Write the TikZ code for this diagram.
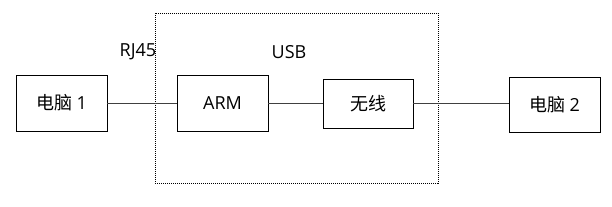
\documentclass[tikz,border=0pt]{standalone}
\usepackage{fontspec}
\setmainfont{Open Sans}
\newfontfamily\cjk{Noto Sans CJK SC}
\begin{document}
\begin{tikzpicture}[x=1pt,y=-1pt,
  blk/.style={draw=black,line width=0.9pt,inner sep=0pt,font=\fontsize{18}{20}\selectfont},
  lbl/.style={inner sep=0pt,font=\fontsize{18}{20}\selectfont},
  wire/.style={draw=black!75,line width=0.9pt}]
\useasboundingbox (0,0) rectangle (612,206);
\draw[line width=1pt,dash pattern=on 1pt off 1pt] (155,13) rectangle (438,183);
\node[blk,minimum width=91pt,minimum height=56pt] (pc1) at (61.5,103) {{\cjk 电脑} 1};
\node[blk,minimum width=91pt,minimum height=56pt] (arm) at (222.5,103) {ARM};
\node[blk,minimum width=90pt,minimum height=49pt] (wx) at (368,103.5) {\cjk 无线};
\node[blk,minimum width=91pt,minimum height=55pt] (pc2) at (554.5,104.5) {{\cjk 电脑} 2};
\node[lbl] (rj) at (138,52) {RJ45};
\node[lbl] (usb) at (289,52) {USB};
\draw[wire] (pc1.east) -- (arm.west|-pc1.east);
\draw[wire] (arm.east) -- (wx.west|-arm.east);
\draw[wire] (wx.east|-arm.east) -- (pc2.west|-arm.east);
\end{tikzpicture}
\end{document}
